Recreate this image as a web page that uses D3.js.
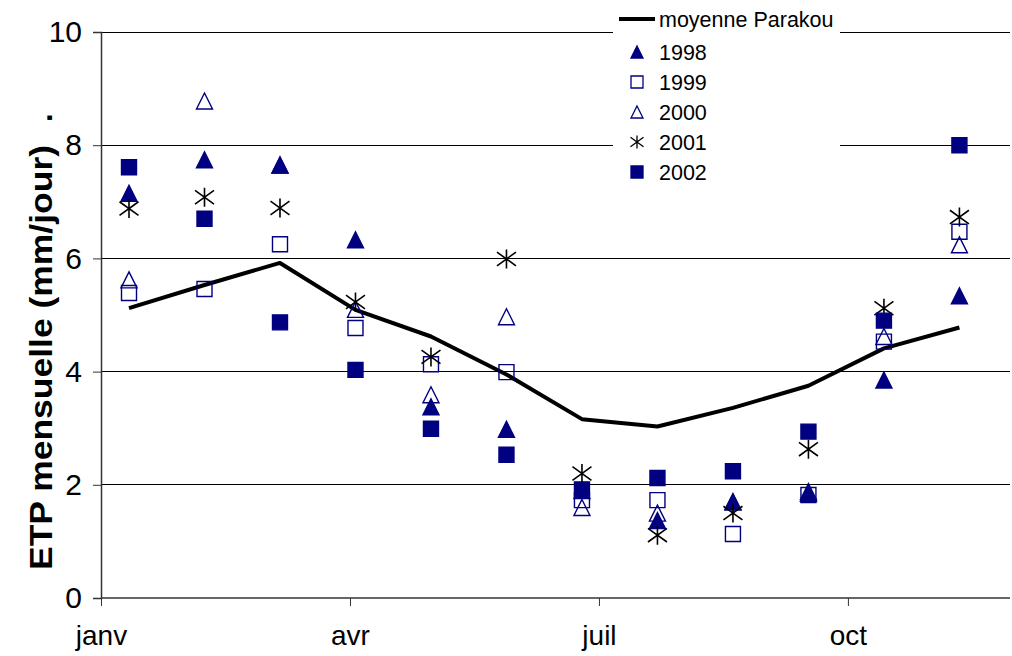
<!DOCTYPE html>
<html><head><meta charset="utf-8">
<script src="https://cdn.jsdelivr.net/npm/d3@7"></script>
<style>
body{margin:0;background:#fff}
svg{display:block;font-family:"Liberation Sans",Arial,Helvetica,sans-serif}
</style></head>
<body><svg id="c" width="1012" height="656"></svg>
<script>
// ---- data ----
const monthIdx = [0,1,2,3,4,5,6,7,8,9,10,11];
const moyenne = [5.12,5.53,5.92,5.09,4.62,3.95,3.16,3.03,3.36,3.75,4.41,4.78];
const y1998 = [7.15,7.74,7.65,6.33,3.38,2.98,1.90,1.37,1.70,1.85,3.85,5.34];
const y1999 = [5.39,5.46,6.25,4.77,4.13,3.99,1.73,1.73,1.13,1.82,4.53,6.47];
const y2000 = [5.62,8.78,7.65,5.10,3.59,4.97,1.60,1.50,1.70,1.88,4.62,6.24];
const y2001 = [6.88,7.08,6.89,5.23,4.26,5.99,2.20,1.11,1.50,2.63,5.12,6.73];
const y2002 = [7.61,6.70,4.87,4.03,2.99,2.53,1.92,2.12,2.24,2.94,4.90,8.00];
const xTickLabels = ["janv","avr","juil","oct"];
const xTickPos = [-0.371,2.927,6.225,9.523];
const yTicks = [0,2,4,6,8,10];

const navy = "#000080";
const svg = d3.select("#c");
const L = 101, R = 1010, T = 32, B = 598;

const x = d3.scaleLinear().domain([-0.371, 11.67]).range([L, R]);
const y = d3.scaleLinear().domain([0, 10]).range([B, T]);

// gridlines
svg.append("g").selectAll("line").data(yTicks.filter(d=>d>0)).join("line")
  .attr("x1", L).attr("x2", R).attr("y1", d=>y(d)).attr("y2", d=>y(d))
  .attr("stroke", "#000").attr("stroke-width", 1).attr("shape-rendering","crispEdges");

// y axis
const yAxis = svg.append("g").attr("transform", `translate(${L},0)`)
  .call(d3.axisLeft(y).tickValues(yTicks).tickSize(8).tickPadding(11).tickFormat(d3.format("d")));
yAxis.select(".domain").attr("stroke","#333").attr("stroke-width",1.5);
yAxis.selectAll(".tick line").attr("stroke","#333");
yAxis.selectAll("text").attr("font-size", 30).attr("fill","#000")
  .attr("font-family", '"Liberation Sans",Arial,sans-serif');

// x axis
const xAxis = svg.append("g").attr("transform", `translate(0,${B})`)
  .call(d3.axisBottom(x).tickValues(xTickPos).tickSize(8).tickPadding(19)
    .tickFormat((d,i)=>xTickLabels[i]));
xAxis.select(".domain").attr("stroke","#333").attr("stroke-width",1.5).attr("d", `M${L},0H${R}`);
xAxis.selectAll(".tick line").attr("stroke","#333");
xAxis.selectAll("text").attr("font-size", 28).attr("fill","#000")
  .attr("font-family", '"Liberation Sans",Arial,sans-serif');

// axis title
const title = svg.append("g").attr("transform", "translate(52,0) rotate(-90)");
title.append("text").attr("x", -570).attr("y", 0)
  .attr("font-size", 31).attr("font-weight","bold")
  .attr("textLength", 425).attr("lengthAdjust","spacingAndGlyphs")
  .text("ETP mensuelle (mm/jour)");
title.append("text").attr("x", -122).attr("y", 0)
  .attr("font-size", 31).attr("font-weight","bold").text(".");

// marker paths
function sq(s){ const h=s/2; return `M${-h},${-h}H${h}V${h}H${-h}Z`; }
function tri(s){ const h=s/2; return `M0,${-h}L${h},${h}L${-h},${h}Z`; }
function star(s){ const h=s/2, k=h*0.72;
  return `M0,${-h}V${h}M${-h},${-k}L${h},${k}M${-h},${k}L${h},${-k}`; }

const series = [
  {name:"1998", vals:y1998, shape:"tri", fill:navy, stroke:navy},
  {name:"1999", vals:y1999, shape:"sq", fill:"none", stroke:navy},
  {name:"2000", vals:y2000, shape:"tri", fill:"none", stroke:navy},
  {name:"2001", vals:y2001, shape:"star", fill:"none", stroke:"#000"},
  {name:"2002", vals:y2002, shape:"sq", fill:navy, stroke:navy}
];
function shapePath(shape, s){ return shape==="sq"?sq(s):shape==="tri"?tri(s):star(s); }

// mean line
svg.append("path").datum(moyenne)
  .attr("d", d3.line().x((d,i)=>x(monthIdx[i])).y(d=>y(d)))
  .attr("fill","none").attr("stroke","#000").attr("stroke-width",4).attr("stroke-linejoin","round");

series.forEach(s=>{
  const size = s.shape==="star"?19:16;
  svg.append("g").selectAll("path").data(s.vals).join("path")
    .attr("transform",(d,i)=>`translate(${x(monthIdx[i])},${y(d)})`)
    .attr("d", shapePath(s.shape, s.shape==="sq"?15:size))
    .attr("fill", s.fill).attr("stroke", s.stroke)
    .attr("stroke-width", s.shape==="star"?1.6:1.4);
});

// legend
const lg = svg.append("g");
lg.append("rect").attr("x",613).attr("y",0).attr("width",227).attr("height",190).attr("fill","#fff");
lg.append("line").attr("x1",619).attr("x2",655).attr("y1",19).attr("y2",19)
  .attr("stroke","#000").attr("stroke-width",4);
lg.append("text").attr("x",659).attr("y",27).attr("font-size",21.5).text("moyenne Parakou");
series.forEach((s,i)=>{
  const cy = 52 + i*30;
  lg.append("path").attr("transform",`translate(637,${cy})`)
    .attr("d", shapePath(s.shape, s.shape==="star"?13:12))
    .attr("fill", s.fill).attr("stroke", s.stroke).attr("stroke-width",1.3);
  lg.append("text").attr("x",659).attr("y",cy+8).attr("font-size",21.5).text(s.name);
});
</script></body></html>
